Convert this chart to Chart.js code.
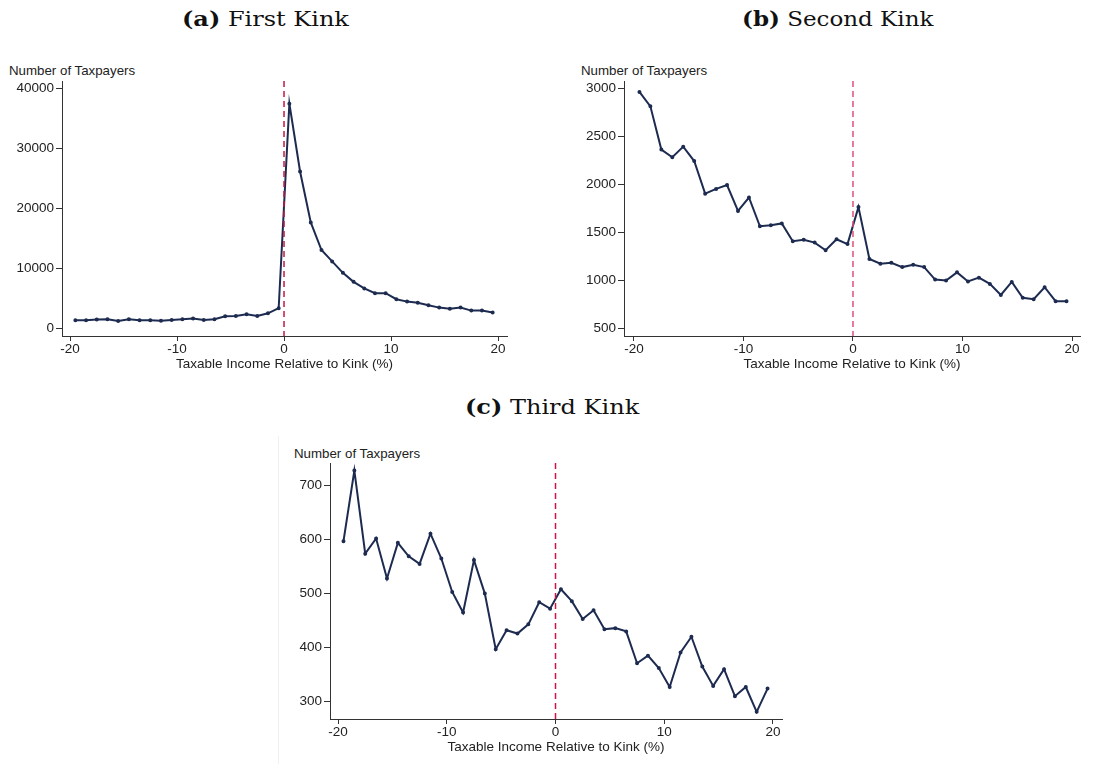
<!DOCTYPE html>
<html>
<head>
<meta charset="utf-8">
<script src="https://cdn.jsdelivr.net/npm/chart.js@4.4.0/dist/chart.umd.min.js"></script>
<style>
  body { margin: 0; background: #fff; }
  #page { position: relative; width: 1096px; height: 764px; overflow: hidden; }
  .panel-title { position: absolute; font-family: "DejaVu Serif", serif; font-size: 20px; color: #111; white-space: nowrap; transform-origin: left center; transform: scaleX(1.15); }
  .panel-title b { font-weight: bold; }
  .ylab { position: absolute; font-family: "Liberation Sans", Arial, sans-serif; font-size: 13.3px; color: #222; white-space: nowrap; }
  .box { position: absolute; }
  #frameC { position: absolute; left: 278px; top: 436px; width: 1px; height: 328px; background: #f0f0f0; }
</style>
</head>
<body>
<div id="page">
  <div class="panel-title" style="left:182px; top:7px; transform:scaleX(1.2);"><b>(a)</b> First Kink</div>
  <div class="panel-title" style="left:742px; top:7px;"><b>(b)</b> Second Kink</div>
  <div class="panel-title" style="left:465px; top:395px; transform:scaleX(1.2);"><b>(c)</b> Third Kink</div>

  <div class="ylab" style="left:9px; top:63px;">Number of Taxpayers</div>
  <div class="ylab" style="left:581px; top:63px;">Number of Taxpayers</div>
  <div id="frameC"></div>
  <div class="ylab" style="left:294px; top:446px;">Number of Taxpayers</div>

  <div class="box" style="left:0px; top:71px; width:522px; height:309px;"><canvas id="chartA"></canvas></div>
  <div class="box" style="left:574px; top:71px; width:522px; height:309px;"><canvas id="chartB"></canvas></div>
  <div class="box" style="left:280px; top:453px; width:520px; height:310px;"><canvas id="chartC"></canvas></div>
</div>
<script>
// bin centres, % of taxable income relative to the kink
const binCenters = [
  -19.5, -18.5, -17.5, -16.5, -15.5, -14.5, -13.5, -12.5, -11.5, -10.5,
  -9.5, -8.5, -7.5, -6.5, -5.5, -4.5, -3.5, -2.5, -1.5, -0.5,
  0.5, 1.5, 2.5, 3.5, 4.5, 5.5, 6.5, 7.5, 8.5, 9.5,
  10.5, 11.5, 12.5, 13.5, 14.5, 15.5, 16.5, 17.5, 18.5, 19.5
];

const firstKink = [
  1300, 1300, 1400, 1450, 1150, 1450, 1300, 1300, 1200, 1350,
  1450, 1600, 1350, 1450, 1950, 2000, 2300, 2000, 2450, 3300,
  37400, 26100, 17600, 13000, 11100, 9200, 7700, 6600, 5800, 5800,
  4800, 4400, 4200, 3800, 3400, 3200, 3400, 2900, 2900, 2600
];

const secondKink = [
  2960, 2810, 2360, 2280, 2390, 2240, 1900, 1950, 1990, 1720,
  1860, 1560, 1570, 1590, 1405, 1420, 1390, 1310, 1425, 1375,
  1760, 1220, 1170, 1180, 1135, 1160, 1135, 1005, 995, 1080,
  985, 1025, 960, 845, 980, 815, 800, 925, 780, 780
];

const thirdKink = [
  596, 727, 573, 601, 527, 593, 568, 554, 610, 564,
  502, 464, 561, 499, 396, 431, 425, 442, 483, 471,
  507, 485, 452, 468, 433, 435, 429, 370, 384, 361,
  326, 390, 419, 364, 328, 359, 309, 326, 280, 323
];

const xTicks = [-20, -10, 0, 10, 20];
const yTicksA = [0, 10000, 20000, 30000, 40000];
const yTicksB = [500, 1000, 1500, 2000, 2500, 3000];
const yTicksC = [300, 400, 500, 600, 700];
const kinkAt = 0;

const lineColor = "#1d2b50";
const axisColor = "#333";
const tickFont = { family: "'Liberation Sans', Arial, sans-serif", size: 13.5 };

// vertical dashed line at the kink
const kinkLine = {
  id: "kinkLine",
  afterDatasetsDraw(chart, args, opts) {
    const { ctx, chartArea, scales } = chart;
    const x = scales.x.getPixelForValue(kinkAt);
    ctx.save();
    ctx.strokeStyle = opts.color;
    ctx.lineWidth = 1.5;
    ctx.setLineDash([6, 4]);
    ctx.beginPath();
    ctx.moveTo(x, chartArea.top);
    ctx.lineTo(x, chartArea.bottom);
    ctx.stroke();
    ctx.restore();
  },
};

function makeChart(id, values, yTicks, cfg) {
  const ctx = document.getElementById(id).getContext("2d");
  return new Chart(ctx, {
    type: "line",
    data: {
      datasets: [
        {
          data: binCenters.map((x, i) => ({ x: x, y: values[i] })),
          borderColor: lineColor,
          backgroundColor: lineColor,
          borderWidth: 2,
          pointRadius: 1,
          pointHoverRadius: 1,
          tension: 0,
        },
      ],
    },
    options: {
      responsive: true,
      maintainAspectRatio: false,
      animation: false,
      layout: { padding: { left: 0, top: 3, right: cfg.padRight, bottom: 0 } },
      plugins: {
        legend: { display: false },
        tooltip: { enabled: false },
        kinkLine: { color: cfg.dashColor },
      },
      scales: {
        x: {
          type: "linear",
          min: cfg.xMin,
          max: cfg.xMax,
          afterBuildTicks: (s) => { s.ticks = xTicks.map((v) => ({ value: v })); },
          afterFit: (s) => { s.height = 44; },
          ticks: { color: "#222", font: tickFont, padding: 0, maxRotation: 0 },
          grid: { drawOnChartArea: false, drawTicks: true, tickLength: 5, color: axisColor },
          border: { display: true, color: axisColor, width: 1 },
          title: {
            display: true,
            text: "Taxable Income Relative to Kink (%)",
            color: "#222",
            font: tickFont,
            padding: { top: 0, bottom: 8 },
          },
        },
        y: {
          min: cfg.yMin,
          max: cfg.yMax,
          afterBuildTicks: (s) => { s.ticks = yTicks.map((v) => ({ value: v })); },
          afterFit: (s) => { s.width = cfg.yWidth; },
          ticks: { color: "#222", font: tickFont, padding: 2, callback: (v) => String(v) },
          grid: { drawOnChartArea: false, drawTicks: true, tickLength: 6, color: axisColor },
          border: { display: true, color: axisColor, width: 1 },
        },
      },
    },
    plugins: [kinkLine],
  });
}

makeChart("chartA", firstKink, yTicksA, {
  xMin: -20.75, xMax: 20.84, yMin: -1333, yMax: 41167,
  yWidth: 62, padRight: 15, dashColor: "#c8163f",
});
makeChart("chartB", secondKink, yTicksB, {
  xMin: -20.91, xMax: 20.73, yMin: 417, yMax: 3073,
  yWidth: 50, padRight: 16, dashColor: "#e0507a",
});
makeChart("chartC", thirdKink, yTicksC, {
  xMin: -20.74, xMax: 20.83, yMin: 266.7, yMax: 740.7,
  yWidth: 50, padRight: 18, dashColor: "#d0144a",
});
</script>
</body>
</html>
